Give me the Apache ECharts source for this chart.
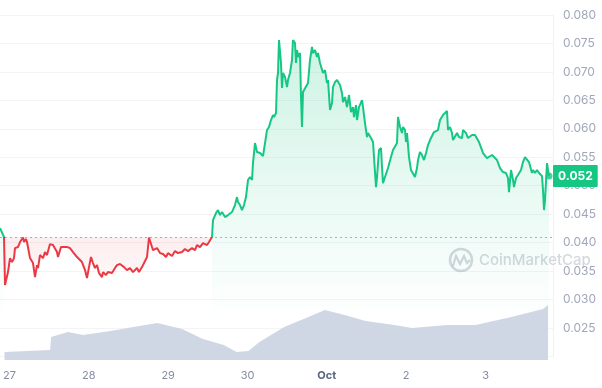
<!DOCTYPE html>
<html>
<head>
<meta charset="utf-8">
<script src="https://cdn.jsdelivr.net/npm/echarts@6/dist/echarts.min.js"></script>
<style>
html,body{margin:0;padding:0;background:#fff;}
#chart{width:602px;height:388px;}
</style>
</head>
<body>
<div id="chart"></div>
<script>
// hours since 27 Sep 00:00
const hours = [
-1.5,-0.3,0,0.9,1.5,2.1,2.7,3.0,3.9,4.5,5.4,5.7,6.3,6.6,7.5,8.4,9.0,9.6,9.9,10.5,11.4,12.0,12.6,13.5,14.4,15.6,15.9,16.8,17.4,18.6,19.5,20.4,21.6,22.2,23.1,24.0,24.6,25.2,25.8,26.4,27.0,27.6,28.2,29.1,29.4,30.3,30.9,32.1,33.0,33.6,34.5,35.7,36.6,37.5,38.4,39.6,40.2,41.1,41.7,42.6,43.2,
44.1,44.4,45.6,46.5,47.4,48.3,48.9,50.1,51.0,51.9,53.1,54.0,54.9,56.1,57.0,57.6,58.5,59.4,60.6,61.2,62.1,62.4,63.3,63.9,64.5,65.1,66.0,66.9,68.1,69.0,69.6,69.9,70.5,71.1,71.7,72.3,72.9,73.5,74.1,74.4,75.0,75.6,
76.5,77.4,78.0,78.6,79.2,79.8,80.4,80.7,81.3,81.6,81.9,82.2,82.8,83.1,83.4,84.0,84.6,84.9,85.5,86.1,86.4,87.0,87.3,87.6,87.9,88.5,88.8,89.1,89.4,90.0,90.9,91.5,92.1,92.4,93.0,93.6,93.9,94.5,95.1,95.4,96.0,96.6,96.9,97.5,98.1,98.4,99.0,99.6,100.5,101.1,101.4,102.0,102.6,103.2,103.8,104.4,104.7,105.3,105.6,106.2,107.1,107.4,108.0,108.6,108.9,109.8,
110.4,111.0,111.3,111.6,112.2,112.8,113.1,113.4,114.0,114.6,114.9,115.8,116.4,117.0,117.6,117.9,118.5,119.1,119.4,120.0,120.3,120.6,121.2,121.8,122.4,123.0,123.6,123.9,124.5,125.1,125.7,126.3,126.9,127.5,128.1,128.7,129.3,129.9,130.5,131.1,131.4,132.0,132.6,132.9,133.5,134.1,134.4,135.0,135.6,136.2,137.1,137.4,138.3,138.9,140.1,141.0,141.6,142.2,143.1,143.4,144.6,145.2,146.1,146.7,147.6,148.5,149.4,150.3,150.9,151.2,151.8,152.4,152.7,153.3,153.9,154.8,155.4,156.0,156.6,157.2,158.1,158.4,159.0,159.6,160.2,161.1,161.4,161.7,162.0,162.6,162.9,163.2
];
const prices = [
0.04257,0.0410,0.03255,0.03483,0.03729,0.03659,0.03729,0.03905,0.03923,0.04011,0.0409,0.04011,0.04063,0.04011,0.03729,0.03641,0.03395,0.03606,0.03554,0.03782,0.03729,0.03835,0.03782,0.03975,0.03958,0.03835,0.03747,0.03923,0.03905,0.03923,0.03905,0.03835,0.03747,0.03782,0.03659,0.03518,0.03378,0.03571,0.03747,0.03641,0.03554,0.03606,0.03466,0.03395,0.03483,0.03431,0.03483,0.03466,0.03554,0.03606,0.03624,0.03571,0.03518,0.03554,0.03483,0.03554,0.03483,0.03571,0.03606,0.03747,0.0409,
0.03923,0.03870,0.03905,0.03817,0.03800,0.03747,0.03817,0.03765,0.03852,0.03817,0.03835,0.03888,0.03852,0.03905,0.03870,0.03958,0.03923,0.03993,0.03958,0.04011,0.0410,0.04397,0.04520,0.04573,0.04485,0.04538,0.04450,0.04485,0.04538,0.04661,0.04801,0.04714,0.04661,0.04573,0.04661,0.04801,0.05100,0.05153,0.05100,0.05399,0.05750,0.05592,
0.05575,0.05522,0.05750,0.05979,0.06032,0.06155,0.06243,0.06207,0.06278,0.06858,0.06981,0.07561,0.07156,0.06717,0.06981,0.06910,0.06735,0.06858,0.06981,0.07209,0.07561,0.07508,0.07156,0.07385,0.07262,0.07332,0.06559,0.06032,0.06647,0.06682,0.06805,0.07209,0.07438,0.07332,0.07385,0.07262,0.07332,0.07156,0.07174,0.06981,0.07033,0.06805,0.06858,0.06330,0.06453,0.06735,0.06822,0.06858,0.06770,0.06629,0.06471,0.06559,0.06383,0.06594,0.06295,0.06383,0.06207,0.06418,0.06155,0.06383,0.06506,0.06383,0.06102,0.05856,0.05926,0.05838,
0.05768,0.05803,0.04977,0.05153,0.05627,0.05663,0.05329,0.05047,0.05153,0.05135,0.05311,0.05504,0.05627,0.05592,0.05750,0.06207,0.06032,0.05926,0.06032,0.05979,0.05768,0.05926,0.05504,0.05276,0.05241,0.05153,0.05311,0.05452,0.05592,0.05540,0.05452,0.05575,0.05715,0.05803,0.05838,0.05944,0.05926,0.05979,0.06155,0.06190,0.06243,0.06278,0.06313,0.05979,0.06032,0.05926,0.05803,0.05838,0.05926,0.05856,0.05838,0.05979,0.05926,0.05838,0.05891,0.05891,0.05926,0.05768,0.05627,0.05575,0.05487,0.05452,0.05540,0.05504,0.05452,0.05311,0.05241,0.05223,0.05135,0.04889,0.05276,0.05100,0.04977,0.05135,0.05188,0.05276,0.05417,0.05504,0.05504,0.05417,0.05223,0.05276,0.05223,0.05276,0.05223,0.05170,0.04924,0.04573,0.04749,0.05399,0.05276,0.05170
];
const openPrice = 0.0410;
const volHours = [-1.5,12.3,12.6,17.7,22.2,30.6,37.5,44.7,52.2,58.5,64.8,68.7,72.3,75.6,83.1,89.7,95.4,101.4,107.7,116.4,121.8,132.3,141.0,151.8,161.4,162.9];
const volumes  = [8,10,23,28,25,29,33,37,31,21,15,8,9,18,33,42,50,45,39,35,32,35,35,43,51,55];
const xTickHours = [0,24,48,72,96,120,144];
const xTickLabels = ['27','28','29','30','Oct','2','3'];
const xMin = -1.5, xMax = 164.4;

const GREEN = '#16c784', RED = '#ea3943';
const priceData = hours.map((h,i)=>[h, prices[i]]);
const greenData = hours.map((h,i)=> prices[i] >= openPrice ? [h, prices[i]] : [h, '-']);
const redData = hours.map((h,i)=>[h, Math.min(prices[i], openPrice)]);
const volData = volHours.map((h,i)=>[h, volumes[i]]);
const last = priceData.length - 1;

const chart = echarts.init(document.getElementById('chart'));
chart.setOption({
  animation: false,
  textStyle: {fontFamily: 'Inter, sans-serif'},
  grid: [
    {left: 0, right: 49, top: 15, bottom: 31.5},
    {left: 0, right: 49, bottom: 28, height: 100}
  ],
  xAxis: [
    {type: 'value', gridIndex: 0, min: xMin, max: xMax, show: false},
    {type: 'value', gridIndex: 1, min: xMin, max: xMax,
     axisLine: {show: false}, axisTick: {show: false}, splitLine: {show: false},
     axisLabel: {
       customValues: xTickHours, margin: 10, fontSize: 11, color: '#858ca2',
       formatter: function(v){ const lab = xTickLabels[Math.round(v/24)]; return lab === 'Oct' ? '{b|Oct}' : lab; },
       rich: {b: {fontWeight: 'bold', color: '#58667e', fontSize: 11}}
     }}
  ],
  yAxis: [
    {type: 'value', gridIndex: 0, position: 'right', min: 0.020, max: 0.080, interval: 0.005,
     axisLine: {show: true, onZero: false, lineStyle: {color: '#eff2f5'}}, axisTick: {show: false},
     splitLine: {lineStyle: {color: '#f3f4f6'}},
     axisLabel: {margin: 10, fontSize: 12, color: '#a1a7bb',
       formatter: function(v){ return v < 0.0201 ? '' : v.toFixed(3); }}},
    {type: 'value', gridIndex: 1, min: 0, max: 100, show: false}
  ],
  visualMap: {
    show: false, type: 'piecewise', seriesIndex: 0, dimension: 1,
    pieces: [{gte: 0, lt: openPrice, color: RED}, {gte: openPrice, lte: 1, color: GREEN}],
    outOfRange: {color: GREEN}
  },
  graphic: [
    {type: 'circle', shape: {cx: 461, cy: 260, r: 11}, style: {fill: 'none', stroke: 'rgba(160,166,180,0.45)', lineWidth: 2.5}, z: 1},
    {type: 'polyline', shape: {points: [[453,266],[456,256],[460,264],[464,256],[467,263],[470,260]]}, style: {fill: 'none', stroke: 'rgba(160,166,180,0.45)', lineWidth: 2.2}, z: 1},
    {type: 'text', x: 479, y: 260, style: {text: 'CoinMarketCap', fontSize: 15, fontWeight: 500, fontFamily: 'Inter, sans-serif', fill: 'rgba(160,166,180,0.45)', verticalAlign: 'middle'}, z: 1}
  ],
  series: [
    {type: 'line', xAxisIndex: 0, yAxisIndex: 0, data: priceData, showSymbol: false, lineStyle: {width: 2}, z: 5},
    {type: 'line', xAxisIndex: 0, yAxisIndex: 0, data: greenData, showSymbol: false, connectNulls: false,
     lineStyle: {width: 0}, itemStyle: {color: GREEN},
     areaStyle: {origin: 'start', color: {type: 'linear', x: 0, y: 40, x2: 0, y2: 320, global: true,
       colorStops: [{offset: 0, color: 'rgba(22,199,132,0.30)'}, {offset: 1, color: 'rgba(22,199,132,0)'}]}}, z: 2},
    {type: 'line', xAxisIndex: 0, yAxisIndex: 0, data: redData, showSymbol: false,
     lineStyle: {width: 0}, itemStyle: {color: RED},
     areaStyle: {origin: openPrice, color: {type: 'linear', x: 0, y: 237, x2: 0, y2: 290, global: true,
       colorStops: [{offset: 0, color: 'rgba(234,57,67,0.13)'}, {offset: 1, color: 'rgba(234,57,67,0.03)'}]}},
     markLine: {silent: true, symbol: 'none', precision: 5, label: {show: false},
       lineStyle: {type: [2, 3], color: '#a6b0c3', width: 1}, data: [{yAxis: openPrice}]}, z: 2},
    {type: 'line', xAxisIndex: 1, yAxisIndex: 1, data: volData, showSymbol: false,
     lineStyle: {width: 0}, itemStyle: {color: '#cfd6e4'}, areaStyle: {color: '#cfd6e4', opacity: 1}, z: 3},
    {type: 'scatter', xAxisIndex: 0, yAxisIndex: 0, data: [priceData[last]], symbolSize: 7,
     itemStyle: {color: GREEN}, z: 6, clip: false,
     markLine: {silent: true, symbol: 'none', precision: 5, lineStyle: {color: 'rgba(0,0,0,0)', width: 0},
       label: {show: true, position: 'end', distance: 0, backgroundColor: GREEN, color: '#fff', opacity: 1,
         fontSize: 12, fontWeight: 'bold', padding: [5, 5, 5, 5], borderRadius: 1,
         formatter: function(p){ return Number(p.value).toFixed(3); }},
       data: [{yAxis: prices[last]}]}}
  ]
});
</script>
</body>
</html>
